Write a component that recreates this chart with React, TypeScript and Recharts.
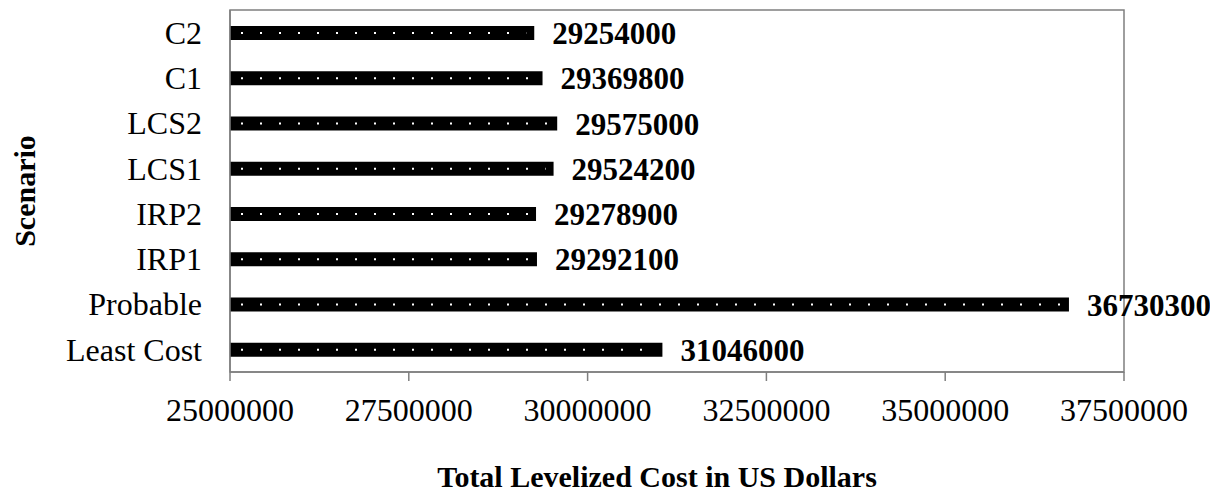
import React from "react";
import {
  BarChart,
  Bar,
  XAxis,
  YAxis,
  LabelList,
  ReferenceArea,
  Label,
} from "recharts";

const scenarios = ["C2", "C1", "LCS2", "LCS1", "IRP2", "IRP1", "Probable", "Least Cost"];
const costs = [29254000, 29369800, 29575000, 29524200, 29278900, 29292100, 36730300, 31046000];
const xTicks = [25000000, 27500000, 30000000, 32500000, 35000000, 37500000];

const data = scenarios.map((s, i) => ({ scenario: s, cost: costs[i] }));

const FONT = "'Liberation Serif', 'Times New Roman', serif";
const GRAY = "#7f7f7f";

// black bar with a row of white dots through its middle
function DottedBar(props: any) {
  const { x, y, width, height } = props;
  if (!width || width <= 0) return null;
  const cy = y + height / 2;
  return (
    <g>
      <rect x={x} y={y} width={width} height={height} fill="#000" />
      <line
        x1={x + 11}
        x2={x + width - 8}
        y1={cy}
        y2={cy}
        stroke="#fff"
        strokeWidth={2}
        strokeDasharray="2 17"
      />
    </g>
  );
}

export default function App() {
  return (
    <div style={{ margin: -8, width: 1218, height: 498, background: "#fff" }}>
      <BarChart
        width={1218}
        height={498}
        data={data}
        layout="vertical"
        margin={{ top: 10, right: 94, bottom: 0, left: 0 }}
      >
        <ReferenceArea
          x1={25000000}
          x2={37500000}
          fill="none"
          stroke={GRAY}
          strokeWidth={1.5}
          ifOverflow="visible"
        />
        <XAxis
          type="number"
          domain={[25000000, 37500000]}
          ticks={xTicks}
          interval={0}
          height={126}
          axisLine={{ stroke: GRAY, strokeWidth: 1.5 }}
          tickLine={{ stroke: GRAY, strokeWidth: 1.5 }}
          tickSize={9}
          tickMargin={17}
          tick={{ fill: "#000", fontSize: 32, fontFamily: FONT }}
        >
          <Label
            value="Total Levelized Cost in US Dollars"
            position="insideBottom"
            offset={11}
            dx={-20}
            style={{ fill: "#000", fontSize: 30, fontWeight: "bold", fontFamily: FONT }}
          />
        </XAxis>
        <YAxis
          type="category"
          dataKey="scenario"
          width={230}
          axisLine={{ stroke: GRAY, strokeWidth: 1.5 }}
          tickLine={false}
          tickSize={0}
          tickMargin={28}
          tick={{ fill: "#000", fontSize: 32, fontFamily: FONT }}
        >
          <Label
            value="Scenario"
            angle={-90}
            position="insideLeft"
            offset={24}
            style={{
              fill: "#000",
              fontSize: 30,
              fontWeight: "bold",
              fontFamily: FONT,
              textAnchor: "middle",
            }}
          />
        </YAxis>
        <Bar dataKey="cost" barSize={14} shape={<DottedBar />} isAnimationActive={false}>
          <LabelList
            dataKey="cost"
            position="right"
            offset={18}
            style={{ fill: "#000", fontSize: 31, fontWeight: "bold", fontFamily: FONT }}
          />
        </Bar>
      </BarChart>
    </div>
  );
}
